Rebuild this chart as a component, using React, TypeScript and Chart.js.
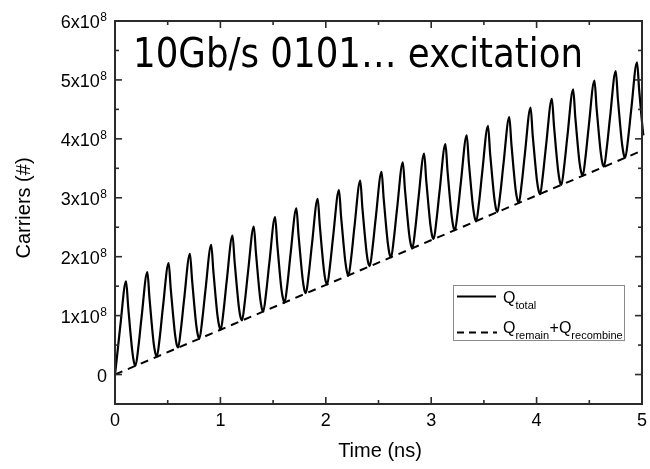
import React, { useEffect, useRef } from "react";
import { Chart, registerables } from "chart.js";

Chart.register(...registerables);

// Time axis of the solid trace (ns)
const timeNs = [
  0,
  0.020, 0.050, 0.105, 0.125, 0.145, 0.165, 0.180, 0.195,
  0.222, 0.252, 0.307, 0.327, 0.347, 0.367, 0.382, 0.397,
  0.424, 0.454, 0.509, 0.529, 0.549, 0.569, 0.584, 0.599,
  0.626, 0.656, 0.711, 0.731, 0.751, 0.771, 0.786, 0.801,
  0.828, 0.858, 0.913, 0.933, 0.953, 0.973, 0.988, 1.003,
  1.030, 1.060, 1.115, 1.135, 1.155, 1.175, 1.190, 1.205,
  1.232, 1.262, 1.317, 1.337, 1.357, 1.377, 1.392, 1.407,
  1.434, 1.464, 1.519, 1.539, 1.559, 1.579, 1.594, 1.609,
  1.636, 1.666, 1.721, 1.741, 1.761, 1.781, 1.796, 1.811,
  1.838, 1.868, 1.923, 1.943, 1.963, 1.983, 1.998, 2.013,
  2.040, 2.070, 2.125, 2.145, 2.165, 2.185, 2.200, 2.215,
  2.242, 2.272, 2.327, 2.347, 2.367, 2.387, 2.402, 2.417,
  2.444, 2.474, 2.529, 2.549, 2.569, 2.589, 2.604, 2.619,
  2.646, 2.676, 2.731, 2.751, 2.771, 2.791, 2.806, 2.821,
  2.848, 2.878, 2.933, 2.953, 2.973, 2.993, 3.008, 3.023,
  3.050, 3.080, 3.135, 3.155, 3.175, 3.195, 3.210, 3.225,
  3.252, 3.282, 3.337, 3.357, 3.377, 3.397, 3.412, 3.427,
  3.454, 3.484, 3.539, 3.559, 3.579, 3.599, 3.614, 3.629,
  3.656, 3.686, 3.741, 3.761, 3.781, 3.801, 3.816, 3.831,
  3.858, 3.888, 3.943, 3.963, 3.983, 4.003, 4.018, 4.033,
  4.060, 4.090, 4.145, 4.165, 4.185, 4.205, 4.220, 4.235,
  4.262, 4.292, 4.347, 4.367, 4.387, 4.407, 4.422, 4.437,
  4.464, 4.494, 4.549, 4.569, 4.589, 4.609, 4.624, 4.639,
  4.666, 4.696, 4.751, 4.771, 4.791, 4.811, 4.826, 4.841,
  4.868, 4.898, 4.953, 4.973, 4.993, 5.013, 5.028, 5.043,
];

// Q_total in units of 1e8 carriers
const qTotal = [
  0,
  0.32, 0.82, 1.58, 1.15, 0.74, 0.38, 0.21, 0.15,
  0.47, 0.97, 1.74, 1.30, 0.89, 0.53, 0.37, 0.30,
  0.62, 1.13, 1.89, 1.45, 1.05, 0.69, 0.52, 0.46,
  0.78, 1.28, 2.05, 1.61, 1.20, 0.84, 0.67, 0.61,
  0.93, 1.43, 2.20, 1.76, 1.35, 0.99, 0.83, 0.76,
  1.08, 1.59, 2.36, 1.91, 1.51, 1.15, 0.98, 0.92,
  1.24, 1.74, 2.51, 2.07, 1.66, 1.30, 1.13, 1.07,
  1.39, 1.89, 2.67, 2.22, 1.81, 1.45, 1.29, 1.22,
  1.54, 2.05, 2.82, 2.37, 1.97, 1.61, 1.44, 1.38,
  1.70, 2.20, 2.98, 2.53, 2.12, 1.76, 1.59, 1.53,
  1.85, 2.35, 3.13, 2.68, 2.28, 1.92, 1.75, 1.68,
  2.00, 2.51, 3.29, 2.83, 2.43, 2.07, 1.90, 1.84,
  2.16, 2.66, 3.44, 2.99, 2.58, 2.22, 2.05, 1.99,
  2.31, 2.81, 3.60, 3.14, 2.74, 2.38, 2.21, 2.14,
  2.46, 2.97, 3.75, 3.29, 2.89, 2.53, 2.36, 2.30,
  2.62, 3.12, 3.91, 3.45, 3.04, 2.68, 2.51, 2.45,
  2.77, 3.27, 4.06, 3.60, 3.20, 2.84, 2.67, 2.60,
  2.92, 3.43, 4.22, 3.75, 3.35, 2.99, 2.82, 2.76,
  3.08, 3.58, 4.37, 3.91, 3.50, 3.14, 2.98, 2.91,
  3.23, 3.73, 4.53, 4.06, 3.66, 3.30, 3.13, 3.06,
  3.39, 3.89, 4.68, 4.22, 3.81, 3.45, 3.28, 3.22,
  3.54, 4.04, 4.84, 4.37, 3.96, 3.60, 3.44, 3.37,
  3.69, 4.20, 4.99, 4.52, 4.12, 3.76, 3.59, 3.53,
  3.85, 4.35, 5.15, 4.68, 4.27, 3.91, 3.74, 3.68,
  4.00, 4.50, 5.30, 4.83, 4.42, 4.06, 3.90, 3.83,
];

// Q_remain + Q_recombine (units of 1e8)
const remainTime = [0, 5];
const remainQ = [0, 3.8];

const xTicks = [0, 1, 2, 3, 4, 5];
const xMinorTicks = [0.5, 1.5, 2.5, 3.5, 4.5];
const yTicks = [0, 1, 2, 3, 4, 5, 6];
const yMinorTicks = [0.5, 1.5, 2.5, 3.5, 4.5, 5.5];
const yTickBase = ["0", "1x10", "2x10", "3x10", "4x10", "5x10", "6x10"];
const yTickExp = ["", "8", "8", "8", "8", "8", "8"];

const titleText = "10Gb/s 0101\u2026 excitation";
const xTitle = "Time (ns)";
const yTitle = "Carriers (#)";

const SANS = "'Liberation Sans', Arial, sans-serif";

const framePlugin = {
  id: "frame",
  afterDraw(chart: any) {
    const { ctx, chartArea: a, scales } = chart;
    const xs = scales.x;
    const ys = scales.y;
    ctx.save();
    // frame
    ctx.strokeStyle = "#2b2b2b";
    ctx.lineWidth = 2;
    ctx.strokeRect(a.left, a.top, a.right - a.left, a.bottom - a.top);
    ctx.lineWidth = 1.6;
    const seg = (x1: number, y1: number, x2: number, y2: number) => {
      ctx.beginPath();
      ctx.moveTo(x1, y1);
      ctx.lineTo(x2, y2);
      ctx.stroke();
    };
    const MAJ = 7;
    const MIN = 4;
    for (const v of xTicks) {
      const px = xs.getPixelForValue(v);
      seg(px, a.bottom, px, a.bottom - MAJ);
      seg(px, a.top, px, a.top + MAJ);
    }
    for (const v of xMinorTicks) {
      const px = xs.getPixelForValue(v);
      seg(px, a.bottom, px, a.bottom - MIN);
      seg(px, a.top, px, a.top + MIN);
    }
    for (const v of yTicks) {
      const py = ys.getPixelForValue(v);
      seg(a.left, py, a.left + MAJ, py);
      seg(a.right, py, a.right - MAJ, py);
    }
    for (const v of yMinorTicks) {
      const py = ys.getPixelForValue(v);
      seg(a.left, py, a.left + MIN, py);
      seg(a.right, py, a.right - MIN, py);
    }

    ctx.fillStyle = "#000";
    // x tick labels
    ctx.font = `18px ${SANS}`;
    ctx.textAlign = "center";
    ctx.textBaseline = "middle";
    for (const v of xTicks) {
      ctx.fillText(String(v), xs.getPixelForValue(v), 421);
    }
    // y tick labels
    const labelRight = 107;
    for (let i = 0; i < yTicks.length; i++) {
      const py = ys.getPixelForValue(yTicks[i]);
      const exp = yTickExp[i];
      ctx.textBaseline = "middle";
      if (exp) {
        ctx.font = `12px ${SANS}`;
        const ew = ctx.measureText(exp).width;
        ctx.textAlign = "left";
        ctx.fillText(exp, labelRight - ew, py - 3);
        ctx.font = `18px ${SANS}`;
        ctx.textAlign = "right";
        ctx.fillText(yTickBase[i], labelRight - ew - 0.5, py + 2);
      } else {
        ctx.font = `18px ${SANS}`;
        ctx.textAlign = "right";
        ctx.fillText(yTickBase[i], labelRight, py + 2);
      }
    }
    // axis titles
    ctx.font = `20px ${SANS}`;
    ctx.textAlign = "center";
    ctx.textBaseline = "middle";
    ctx.fillText(xTitle, 380, 451);
    ctx.save();
    ctx.translate(24, 208);
    ctx.rotate(-Math.PI / 2);
    ctx.fillText(yTitle, 0, 0);
    ctx.restore();

    // big title inside plot
    ctx.font = "40px 'DejaVu Sans', Verdana, sans-serif";
    ctx.textAlign = "left";
    ctx.textBaseline = "alphabetic";
    const tw = ctx.measureText(titleText).width;
    const targetW = 450;
    ctx.save();
    ctx.translate(133, 67);
    ctx.scale(targetW / tw, 1);
    ctx.fillText(titleText, 0, 0);
    ctx.restore();

    // legend
    ctx.strokeStyle = "#8a8a8a";
    ctx.lineWidth = 1;
    ctx.strokeRect(453.5, 285.5, 171, 55);
    ctx.strokeStyle = "#000";
    ctx.lineWidth = 2;
    seg(457, 296.5, 496, 296.5);
    ctx.setLineDash([7, 5]);
    seg(457, 332.5, 497, 332.5);
    ctx.setLineDash([]);
    ctx.textAlign = "left";
    ctx.textBaseline = "alphabetic";
    ctx.font = `16px ${SANS}`;
    ctx.fillText("Q", 503, 303);
    let qw = ctx.measureText("Q").width;
    ctx.font = `11px ${SANS}`;
    ctx.fillText("total", 503 + qw, 309);
    ctx.font = `16px ${SANS}`;
    ctx.fillText("Q", 503, 333);
    ctx.font = `11px ${SANS}`;
    ctx.fillText("remain", 503 + qw, 339);
    let x2 = 503 + qw + ctx.measureText("remain").width + 0.5;
    ctx.font = `16px ${SANS}`;
    ctx.fillText("+Q", x2, 333);
    x2 += ctx.measureText("+Q").width;
    ctx.font = `11px ${SANS}`;
    ctx.fillText("recombine", x2, 339);

    ctx.restore();
  },
};

export default function App() {
  const ref = useRef<HTMLCanvasElement | null>(null);
  useEffect(() => {
    if (!ref.current) return;
    const solid = timeNs.map((t, i) => ({ x: t, y: qTotal[i] }));
    const dashed = remainTime.map((t, i) => ({ x: t, y: remainQ[i] }));
    const chart = new Chart(ref.current, {
      type: "line",
      data: {
        datasets: [
          {
            label: "Q_total",
            data: solid,
            borderColor: "#000",
            borderWidth: 2.2,
            pointRadius: 0,
            cubicInterpolationMode: "monotone",
            fill: false,
            clip: { left: 0, top: 0, right: 6, bottom: 0 },
          } as any,
          {
            label: "Q_remain+Q_recombine",
            data: dashed,
            borderColor: "#000",
            borderWidth: 2,
            borderDash: [8, 6],
            pointRadius: 0,
            fill: false,
          },
        ],
      },
      options: {
        responsive: false,
        animation: false,
        devicePixelRatio: 1,
        layout: { padding: { left: 115, top: 21, right: 8, bottom: 65 } },
        scales: {
          x: { type: "linear", min: 0, max: 5, display: false },
          y: { type: "linear", min: -0.5, max: 6, display: false },
        },
        plugins: {
          legend: { display: false },
          tooltip: { enabled: false },
        },
      },
      plugins: [framePlugin],
    });
    return () => chart.destroy();
  }, []);
  return (
    <div style={{ position: "absolute", left: 0, top: 0, width: 650, height: 469, background: "#fff" }}>
      <canvas ref={ref} width={650} height={469} style={{ display: "block" }} />
    </div>
  );
}
